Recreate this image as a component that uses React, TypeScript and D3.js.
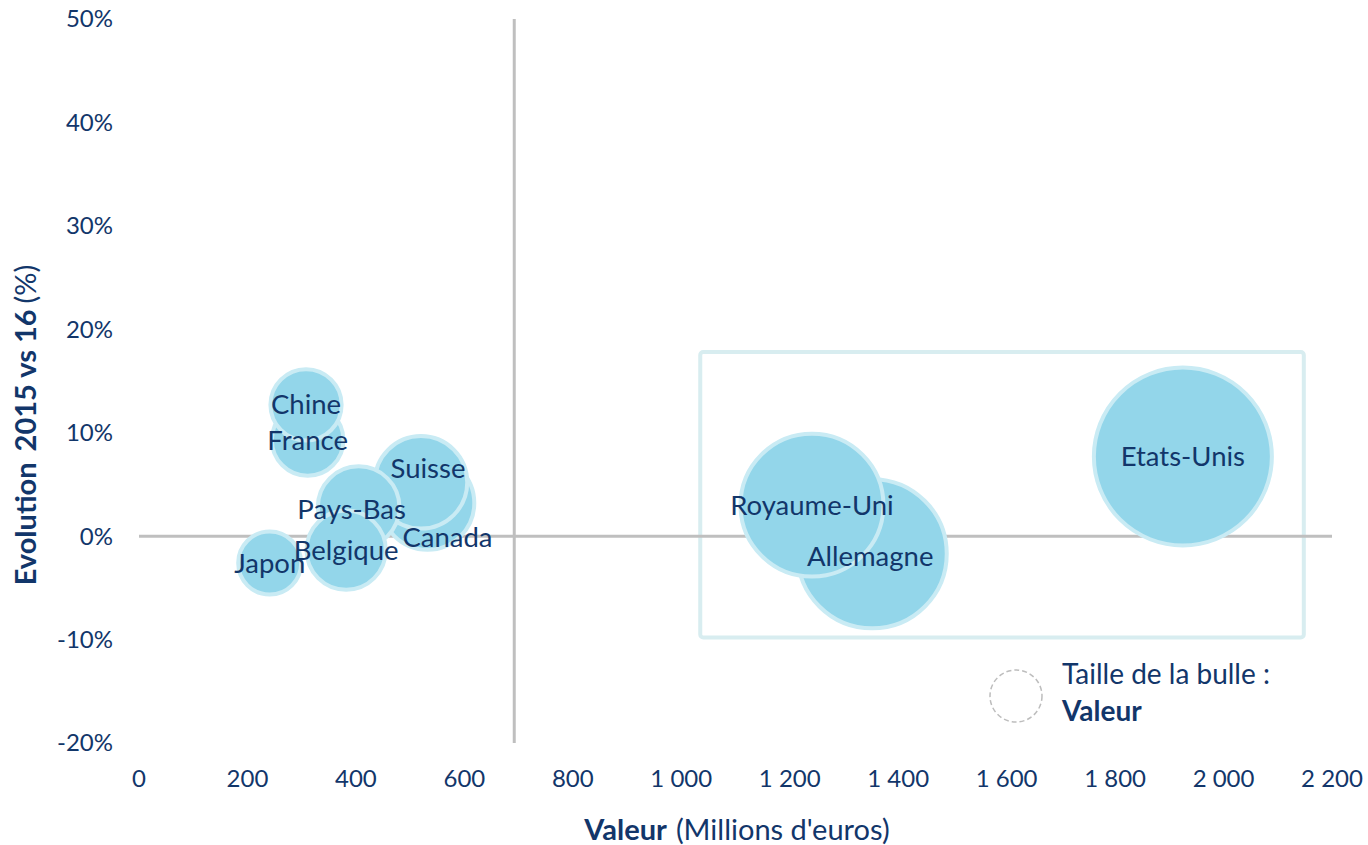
import React from "react";
import * as d3 from "d3";

// ---- Data ----
const countries = ["Etats-Unis", "Royaume-Uni", "Allemagne", "Chine", "France", "Suisse", "Canada", "Pays-Bas", "Belgique", "Japon"];
const valeurs = [1925, 1241, 1352, 308, 311, 520, 532, 405, 382, 241]; // Millions d'euros (also bubble size)
const evolutions = [0.077, 0.030, -0.017, 0.127, 0.093, 0.052, 0.032, 0.028, -0.0135, -0.026];

const xTicks = [0, 200, 400, 600, 800, 1000, 1200, 1400, 1600, 1800, 2000, 2200];
const yTicks = [-0.2, -0.1, 0, 0.1, 0.2, 0.3, 0.4, 0.5];

const yAxisCross = 692; // value where the vertical axis crosses
const boxX = [1035, 2148];
const boxY = [0.178, -0.098];

// label nudges (layout)
const labelNudge: Record<string, [number, number]> = {
  Suisse: [7, -14],
  Canada: [20, 34],
  "Pays-Bas": [-7, 2],
  Allemagne: [-2, 3],
};

const W = 1368;
const H = 845;
const NAVY = "#12366a";
const FONT = "Lato, 'Open Sans', sans-serif";

const frLocale = d3.formatLocale({
  decimal: ",",
  thousands: "\u00a0",
  grouping: [3],
  currency: ["", " €"],
  minus: "-",
});
const fmtX = frLocale.format(",.0f");
const fmtY = (v: number) => `${Math.round(v * 100)}%`;

export default function App() {
  const x = d3.scaleLinear().domain([0, 2200]).range([139, 1332]);
  const y = d3.scaleLinear().domain([-0.2, 0.5]).range([743, 19]);
  const r = d3.scaleSqrt().domain([0, d3.max(valeurs)!]).range([0, 89]);

  const pts = countries.map((c, i) => ({ name: c, v: valeurs[i], e: evolutions[i] }));
  const drawOrder = [...pts].sort((a, b) => b.v - a.v);

  return (
    <svg
      width={W}
      height={H}
      style={{ position: "absolute", left: 0, top: 0, background: "#fff" }}
      fontFamily={FONT}
    >
      {/* annotation box */}
      <rect
        x={x(boxX[0])}
        y={y(boxY[0])}
        width={x(boxX[1]) - x(boxX[0])}
        height={y(boxY[1]) - y(boxY[0])}
        rx={3}
        fill="none"
        stroke="#d8edf0"
        strokeWidth={4}
      />

      {/* axes lines */}
      <line x1={x(0)} x2={x(2200)} y1={y(0)} y2={y(0)} stroke="#bfbfbf" strokeWidth={3} />
      <line x1={x(yAxisCross)} x2={x(yAxisCross)} y1={y(0.5)} y2={y(-0.2)} stroke="#bfbfbf" strokeWidth={3} />

      {/* y tick labels */}
      {yTicks.map((t) => (
        <text key={t} x={113} y={y(t)} dy="0.35em" textAnchor="end" fontSize={24} fill={NAVY}>
          {fmtY(t)}
        </text>
      ))}

      {/* x tick labels */}
      {xTicks.map((t) => (
        <text key={t} x={x(t)} y={779} dy="0.35em" textAnchor="middle" fontSize={24} fill={NAVY}>
          {fmtX(t)}
        </text>
      ))}

      {/* bubbles */}
      {drawOrder.map((p) => (
        <circle
          key={p.name}
          cx={x(p.v)}
          cy={y(p.e)}
          r={r(p.v)}
          fill="#93d6ea"
          stroke="#c9ebf4"
          strokeWidth={4}
        />
      ))}

      {/* labels */}
      {pts.map((p) => {
        const n = labelNudge[p.name] || [0, 0];
        return (
          <text
            key={p.name}
            x={x(p.v) + n[0]}
            y={y(p.e) + n[1]}
            dy="0.35em"
            textAnchor="middle"
            fontSize={27.5}
            fill={NAVY}
          >
            {p.name}
          </text>
        );
      })}

      {/* legend */}
      <circle cx={1016} cy={696} r={26} fill="none" stroke="#bdbdbd" strokeWidth={1.5} strokeDasharray="5 3" />
      <text x={1062} y={684} fontSize={28} fill={NAVY}>
        Taille de la bulle :
      </text>
      <text x={1062} y={721} fontSize={28} fontWeight="bold" fill={NAVY}>
        Valeur
      </text>

      {/* axis titles */}
      <text x={737} y={840} textAnchor="middle" fontSize={29} fill={NAVY}>
        <tspan fontWeight="bold">Valeur</tspan>
        <tspan dx={9}>(Millions d'euros)</tspan>
      </text>
      <text
        transform={`translate(36, 425) rotate(-90)`}
        textAnchor="middle"
        fontSize={29}
        fill={NAVY}
      >
        <tspan fontWeight="bold">Evolution</tspan>
        <tspan fontWeight="bold" dx={11}>2015 vs 16</tspan>
        <tspan dx={6}>(%)</tspan>
      </text>
    </svg>
  );
}
